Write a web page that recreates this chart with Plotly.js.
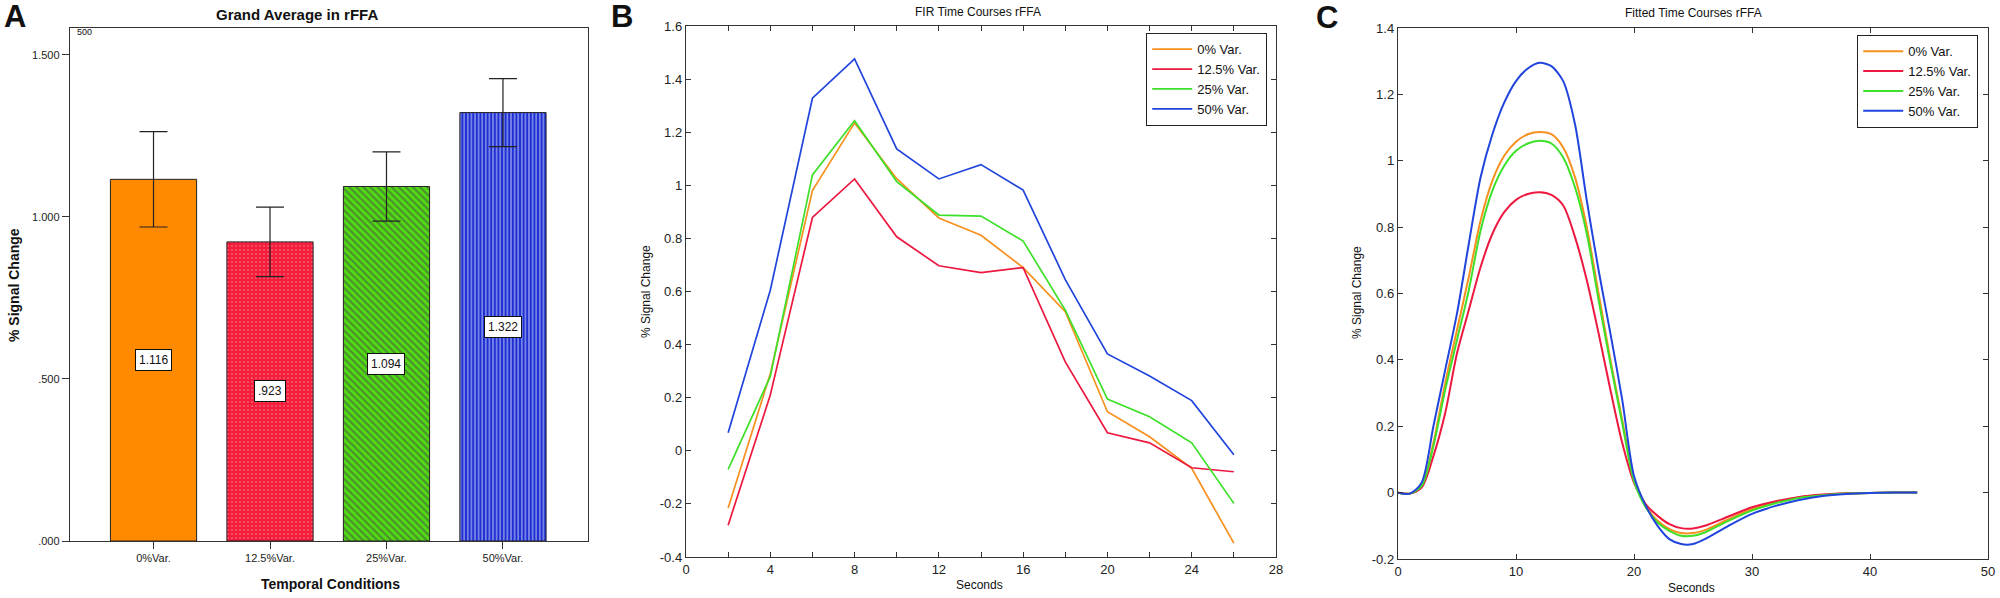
<!DOCTYPE html>
<html>
<head>
<meta charset="utf-8">
<script src="https://cdn.plot.ly/plotly-3.0.1.min.js"></script>
<style>
  html, body { margin: 0; padding: 0; background: #fff; }
  #chart { width: 2000px; height: 598px; }
</style>
</head>
<body>
<div id="chart"></div>
<script>
// Panel A: grand average bars
const conditions = ['0%Var.', '12.5%Var.', '25%Var.', '50%Var.'];
const meanSignal = [1.116, 0.923, 1.094, 1.322];
const semSignal = [0.147, 0.107, 0.107, 0.105];
const barTicks = [0, 0.5, 1, 1.5];

// Panel B: FIR time courses
const firSeconds = [2, 4, 6, 8, 10, 12, 14, 16, 18, 20, 22, 24, 26];
const fir0 = [-0.215, 0.29, 0.98, 1.235, 1.025, 0.877, 0.812, 0.69, 0.524, 0.147, 0.053, -0.066, -0.348];
const fir125 = [-0.28, 0.21, 0.879, 1.024, 0.806, 0.697, 0.671, 0.69, 0.335, 0.068, 0.03, -0.064, -0.079];
const fir25 = [-0.07, 0.28, 1.039, 1.243, 1.014, 0.888, 0.884, 0.79, 0.53, 0.195, 0.128, 0.03, -0.198];
const fir50 = [0.068, 0.605, 1.328, 1.476, 1.137, 1.024, 1.078, 0.982, 0.645, 0.365, 0.282, 0.189, -0.015];
const firYTicks = [-0.4, -0.2, 0, 0.2, 0.4, 0.6, 0.8, 1, 1.2, 1.4, 1.6];
const firXTicks = [0, 2, 4, 6, 8, 10, 12, 14, 16, 18, 20, 22, 24, 26, 28];
const firXLabels = ['0', '', '4', '', '8', '', '12', '', '16', '', '20', '', '24', '', '28'];

// Panel C: fitted time courses
const fitSeconds = [0, 1, 2, 3, 4, 5, 6, 7, 8, 9, 10, 11, 12, 13, 14, 15, 16, 17, 18, 19, 20,
  21, 22, 23, 24, 25, 26, 28, 30, 32, 34, 36, 38, 40, 42, 44];
const fit0 = [0, -0.003, 0.02, 0.15, 0.33, 0.49, 0.65, 0.82, 0.94, 1.015, 1.057, 1.08, 1.087, 1.08, 1.04, 0.95, 0.8, 0.6, 0.4, 0.22, 0.04,
  -0.04, -0.085, -0.11, -0.122, -0.122, -0.113, -0.08, -0.05, -0.03, -0.015, -0.007, -0.003, -0.001, 0, 0];
const fit125 = [0, -0.003, 0.015, 0.11, 0.24, 0.42, 0.55, 0.68, 0.78, 0.845, 0.882, 0.9, 0.905, 0.897, 0.865, 0.77, 0.64, 0.48, 0.31, 0.15, 0.03,
  -0.035, -0.07, -0.095, -0.107, -0.108, -0.1, -0.072, -0.044, -0.026, -0.013, -0.006, -0.002, -0.001, 0, 0];
const fit25 = [0, -0.003, 0.02, 0.14, 0.31, 0.46, 0.61, 0.79, 0.91, 0.985, 1.03, 1.052, 1.06, 1.052, 1.01, 0.92, 0.78, 0.58, 0.39, 0.21, 0.035,
  -0.045, -0.09, -0.115, -0.13, -0.13, -0.12, -0.085, -0.054, -0.032, -0.016, -0.008, -0.003, -0.001, 0, 0];
const fit50 = [0, -0.003, 0.03, 0.2, 0.37, 0.54, 0.75, 0.95, 1.08, 1.175, 1.24, 1.278, 1.295, 1.285, 1.24, 1.11, 0.88, 0.67, 0.48, 0.28, 0.05,
  -0.04, -0.1, -0.14, -0.155, -0.155, -0.14, -0.1, -0.064, -0.04, -0.022, -0.01, -0.004, -0.001, 0, 0];
const fitYTicks = [-0.2, 0, 0.2, 0.4, 0.6, 0.8, 1, 1.2, 1.4];
const fitXTicks = [0, 10, 20, 30, 40, 50];

const seriesNames = ['0% Var.', '12.5% Var.', '25% Var.', '50% Var.'];

// styles
const barColors = ['#ff8a00', '#f41e3c', '#52dc14', '#1c2ed4'];
const barShapes = ['', '.', '\\', '|'];
const barPatternSize = [6, 4, 5, 3.6];
const barSolidity = [0.3, 0.12, 0.45, 0.4];
const lineColors = ['#f7901e', '#ec1840', '#3ee02a', '#2145dc'];

const FONT = '"Liberation Sans", Arial, Helvetica, sans-serif';
const px = x => x / 2000;
const py = y => 1 - y / 598;

// SPSS style numbers: .923, 1.116
function spss(v) {
  return v.toFixed(3).replace(/^0/, '');
}

const data = [];

data.push({
  type: 'bar',
  x: conditions,
  y: meanSignal,
  xaxis: 'x',
  yaxis: 'y',
  width: 0.74,
  showlegend: false,
  marker: {
    color: barColors,
    line: { color: '#222', width: 1 },
    pattern: {
      shape: barShapes,
      fgcolor: '#151515',
      size: barPatternSize,
      solidity: barSolidity,
      fillmode: 'overlay'
    }
  },
  error_y: {
    type: 'data',
    array: semSignal,
    visible: true,
    color: '#222',
    thickness: 1.2,
    width: 14
  },
  hoverinfo: 'skip'
});

const firSets = [fir0, fir125, fir25, fir50];
firSets.forEach((ys, i) => {
  data.push({
    type: 'scatter',
    mode: 'lines',
    x: firSeconds,
    y: ys,
    xaxis: 'x2',
    yaxis: 'y2',
    name: seriesNames[i],
    legend: 'legend',
    line: { color: lineColors[i], width: 1.7 }
  });
});

const fitSets = [fit0, fit125, fit25, fit50];
fitSets.forEach((ys, i) => {
  data.push({
    type: 'scatter',
    mode: 'lines',
    x: fitSeconds,
    y: ys,
    xaxis: 'x3',
    yaxis: 'y3',
    name: seriesNames[i],
    legend: 'legend2',
    line: { color: lineColors[i], width: 2, shape: 'spline', smoothing: 0.8 }
  });
});

const axisBase = {
  showgrid: false,
  zeroline: false,
  showline: true,
  linecolor: '#333',
  linewidth: 1.2,
  tickcolor: '#333',
  tickfont: { family: FONT, size: 13, color: '#222' }
};

const annotations = [];
function note(text, x, y, size, opts) {
  annotations.push(Object.assign({
    text: text,
    xref: 'paper', yref: 'paper',
    x: px(x), y: py(y),
    xanchor: 'center', yanchor: 'middle',
    showarrow: false,
    font: { family: FONT, size: size, color: '#111' }
  }, opts || {}));
}

// panel letters
note('<b>A</b>', 15, 17, 31);
note('<b>B</b>', 622, 17, 31);
note('<b>C</b>', 1327, 18, 31);

// panel titles
note('<b>Grand Average in rFFA</b>', 297, 15, 15);
note('FIR Time Courses rFFA', 978, 12, 12);
note('Fitted Time Courses rFFA', 1693, 13, 12);

// axis titles
note('<b>% Signal Change</b>', 14, 285, 14, { textangle: -90 });
note('<b>Temporal Conditions</b>', 330, 584, 14);
note('% Signal Change', 646, 292, 12, { textangle: -90 });
note('Seconds', 979, 585, 12);
note('% Signal Change', 1357, 293, 12, { textangle: -90 });
note('Seconds', 1691, 588, 12);

// clipped label in the corner of panel A
note('500', 84, 32, 9);

// value boxes in the middle of each bar
conditions.forEach((c, i) => {
  annotations.push({
    text: spss(meanSignal[i]),
    xref: 'x', yref: 'y',
    x: c, y: meanSignal[i] / 2,
    showarrow: false,
    bgcolor: '#fff',
    bordercolor: '#111',
    borderwidth: 1,
    borderpad: 3,
    font: { family: FONT, size: 12, color: '#111' }
  });
});

const legendBase = {
  bgcolor: '#fff',
  bordercolor: '#222',
  borderwidth: 1.2,
  font: { family: FONT, size: 13, color: '#111' },
  xanchor: 'left',
  yanchor: 'top',
  tracegroupgap: 0,
  itemwidth: 40
};

const layout = {
  width: 2000,
  height: 598,
  margin: { l: 0, r: 0, t: 0, b: 0 },
  paper_bgcolor: '#fff',
  plot_bgcolor: '#fff',
  font: { family: FONT },
  annotations: annotations,
  legend: Object.assign({}, legendBase, { x: px(1146), y: py(33) }),
  legend2: Object.assign({}, legendBase, { x: px(1857), y: py(35) }),

  xaxis: Object.assign({}, axisBase, {
    domain: [px(70), px(588)],
    anchor: 'y',
    type: 'category',
    range: [-0.717, 3.73],
    ticks: 'outside',
    ticklen: 7,
    mirror: true,
    tickfont: { family: FONT, size: 11, color: '#222' }
  }),
  yaxis: Object.assign({}, axisBase, {
    domain: [py(541), py(28)],
    anchor: 'x',
    range: [0, 1.583],
    tickvals: barTicks,
    ticktext: barTicks.map(spss),
    ticks: 'outside',
    ticklen: 7,
    mirror: true,
    tickfont: { family: FONT, size: 11, color: '#222' }
  }),

  xaxis2: Object.assign({}, axisBase, {
    domain: [px(686), px(1276)],
    anchor: 'y2',
    range: [0, 28],
    tickvals: firXTicks,
    ticktext: firXLabels,
    ticks: 'inside',
    ticklen: 5,
    mirror: 'ticks'
  }),
  yaxis2: Object.assign({}, axisBase, {
    domain: [py(557), py(26)],
    anchor: 'x2',
    range: [-0.4, 1.6],
    tickvals: firYTicks,
    ticktext: firYTicks.map(String),
    ticks: 'inside',
    ticklen: 5,
    mirror: 'ticks'
  }),

  xaxis3: Object.assign({}, axisBase, {
    domain: [px(1398), px(1988)],
    anchor: 'y3',
    range: [0, 50],
    tickvals: fitXTicks,
    ticktext: fitXTicks.map(String),
    ticks: 'inside',
    ticklen: 5,
    mirror: 'ticks'
  }),
  yaxis3: Object.assign({}, axisBase, {
    domain: [py(559), py(28)],
    anchor: 'x3',
    range: [-0.2, 1.4],
    tickvals: fitYTicks,
    ticktext: fitYTicks.map(String),
    ticks: 'inside',
    ticklen: 5,
    mirror: 'ticks'
  })
};

Plotly.newPlot('chart', data, layout, { staticPlot: true, displayModeBar: false });
</script>
</body>
</html>
